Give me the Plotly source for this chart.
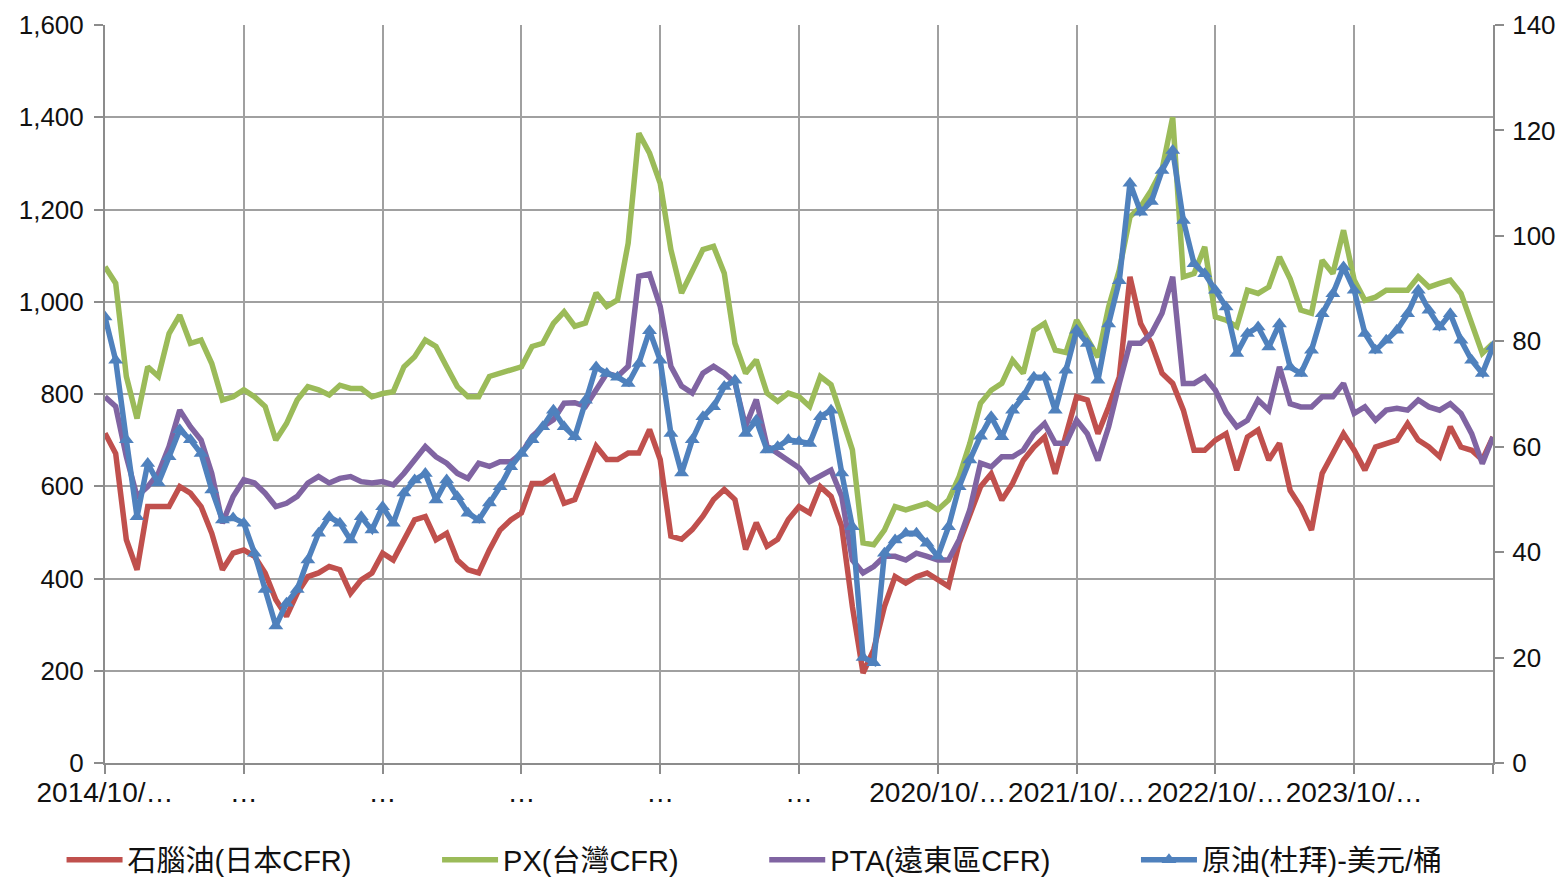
import plotly.graph_objects as go

# week index (every 4 weeks), weekly category axis starting 2014/10
weeks = list(range(0, 521, 4))

tick_weeks = [0, 52, 104, 156, 208, 260, 312, 364, 416, 468, 520]
tick_text = ["2014/10/…", "…", "…", "…", "…", "…", "2020/10/…", "2021/10/…", "2022/10/…", "2023/10/…", ""]

naphtha = [715, 671, 484, 419, 556, 556, 556, 599, 585, 556, 498, 419, 455, 462, 448, 412, 354, 318, 368, 404,
           412, 426, 419, 368, 397, 412, 455, 440, 484, 527, 534, 484, 498, 440, 419, 412, 462, 505, 527, 542,
           606, 606, 621, 563, 571, 629, 687, 658, 658, 672, 672, 723, 658, 492, 485, 506, 535, 571, 593, 571,
           463, 521, 470, 485, 528, 556, 542, 599, 578, 513, 339, 195, 246, 339, 404, 390, 404, 412, 397, 383,
           477, 542, 599, 627, 570, 606, 656, 685, 707, 627, 714, 794, 787, 714, 772, 837, 1054, 953, 910, 845,
           823, 765, 678, 678, 700, 714, 635, 707, 722, 657, 693, 591, 555, 505, 628, 671, 714, 678, 635, 685,
           693, 700, 736, 700, 685, 664, 729, 685, 678, 657, 707]

px_tw = [1076, 1040, 838, 747, 859, 838, 931, 971, 910, 917, 866, 787, 794, 809, 794, 773, 700, 736, 787, 816,
         809, 798, 819, 812, 812, 794, 801, 805, 859, 881, 917, 903, 859, 816, 794, 794, 838, 845, 852, 859,
         903, 910, 953, 978, 947, 954, 1019, 990, 1004, 1127, 1365, 1322, 1257, 1113, 1019, 1069, 1113, 1120, 1062, 910,
         845, 874, 802, 784, 802, 794, 773, 838, 820, 751, 679, 477, 473, 505, 556, 549, 556, 563, 549, 570,
         621, 693, 780, 808, 823, 873, 845, 938, 953, 895, 890, 960, 920, 880, 989, 1069, 1184, 1206, 1242, 1286,
         1400, 1054, 1061, 1119, 967, 960, 946, 1025, 1018, 1032, 1097, 1050, 982, 975, 1090, 1061, 1155, 1047, 1003, 1010,
         1025, 1025, 1025, 1054, 1032, 1040, 1047, 1018, 953, 888, 910]

pta = [794, 773, 664, 578, 599, 628, 686, 765, 729, 700, 628, 520, 578, 614, 607, 585, 556, 563, 578, 607,
       621, 607, 617, 621, 610, 607, 610, 603, 628, 657, 686, 664, 650, 628, 617, 650, 643, 653, 653, 671,
       708, 729, 744, 780, 781, 773, 809, 845, 838, 860, 1055, 1060, 990, 860, 817, 802, 845, 860, 845, 824,
       730, 788, 687, 672, 658, 640, 610, 621, 635, 578, 440, 412, 426, 448, 448, 440, 455, 448, 440, 440,
       484, 549, 650, 642, 664, 664, 678, 714, 736, 693, 693, 743, 714, 656, 729, 823, 910, 910, 931, 975,
       1054, 823, 823, 837, 808, 760, 729, 743, 787, 765, 859, 779, 772, 772, 794, 794, 823, 758, 772, 743,
       765, 769, 765, 787, 772, 765, 779, 758, 714, 649, 707]

crude = [84.6, 76.4, 61.3, 46.7, 56.8, 53.1, 58.1, 63.2, 61.3, 58.7, 51.8, 46.1, 46.5, 45.5, 39.8, 32.9, 26.0, 30.3, 32.9, 38.5,
         43.6, 46.7, 45.5, 42.3, 46.7, 44.2, 48.6, 45.5, 51.2, 53.7, 54.9, 49.9, 53.7, 50.5, 47.4, 46.1, 49.3, 52.4, 56.2, 58.7,
         61.3, 63.8, 66.9, 63.8, 61.9, 68.8, 75.1, 73.9, 73.2, 72.0, 75.8, 82.0, 76.4, 62.5, 55.0, 61.3, 65.7, 67.6, 71.4, 72.6,
         62.5, 65.0, 59.4, 60.0, 61.3, 61.0, 60.6, 65.7, 66.9, 55.0, 44.8, 20.0, 19.0, 39.8, 42.3, 43.6, 43.6, 41.7, 39.2, 44.8,
         52.4, 57.5, 62.0, 65.7, 61.9, 66.9, 69.5, 73.2, 73.2, 66.9, 74.5, 82.1, 79.6, 72.6, 83.3, 91.5, 110.0, 104.5, 106.5, 112.4,
         116.2, 102.9, 94.7, 92.8, 89.7, 86.5, 77.7, 81.5, 82.7, 78.9, 83.3, 75.1, 73.9, 78.3, 85.2, 89.0, 94.1, 89.7, 81.5, 78.3,
         80.2, 82.1, 85.2, 89.7, 85.9, 82.7, 85.2, 80.2, 76.4, 73.9, 79.0]

names = ["石腦油(日本CFR)", "PX(台灣CFR)", "PTA(遠東區CFR)", "原油(杜拜)-美元/桶"]
colors = ["#C0504D", "#9BBB59", "#8064A2", "#4F81BD"]

FONT = "Liberation Sans, Arial, Noto Sans CJK TC, sans-serif"
GRID = "#A0A0A0"
AXIS = "#8C8C8C"
PAD = "\u00a0" * 10  # spacing between legend entries

fig = go.Figure()
for name, series, color in zip(names[:3], [naphtha, px_tw, pta], colors[:3]):
    fig.add_trace(go.Scatter(x=weeks, y=series, name=name + PAD, mode="lines",
                             line=dict(color=color, width=5.5)))
fig.add_trace(go.Scatter(x=weeks, y=crude, name=names[3], mode="lines+markers", yaxis="y2",
                         line=dict(color=colors[3], width=5.5),
                         marker=dict(symbol="triangle-up", size=13, color=colors[3])))

ytick_font = dict(family=FONT, size=26, color="#111111")
xtick_font = dict(family=FONT, size=28, color="#111111")

fig.update_layout(
    width=1567, height=886, autosize=False,
    margin=dict(l=105, r=74, t=25, b=123, autoexpand=False),
    paper_bgcolor="white", plot_bgcolor="white",
    font=dict(family=FONT, size=26, color="#111111"),
    showlegend=True,
    legend=dict(orientation="h", x=-0.0313, xanchor="left", y=-0.1314, yanchor="middle",
                font=dict(family=FONT, size=29, color="#111111"), itemwidth=56,
                bgcolor="rgba(0,0,0,0)"),
    xaxis=dict(range=[0, 520], tickmode="array", tickvals=tick_weeks, ticktext=tick_text,
               showgrid=True, gridcolor=GRID, gridwidth=1.5, zeroline=False,
               showline=True, linecolor=AXIS, linewidth=2,
               ticks="outside", ticklen=9, tickcolor=AXIS, tickwidth=1.5,
               ticklabelstandoff=-6,
               tickfont=xtick_font, tickangle=0),
    yaxis=dict(range=[0, 1600], dtick=200, tickformat=",d",
               showgrid=True, gridcolor=GRID, gridwidth=1.5, zeroline=False,
               showline=True, linecolor=AXIS, linewidth=2,
               ticks="outside", ticklen=9, tickcolor=AXIS, tickwidth=1.5,
               ticklabelstandoff=5,
               tickfont=ytick_font),
    yaxis2=dict(range=[0, 140], dtick=20, overlaying="y", side="right",
                showgrid=False, zeroline=False,
                showline=True, linecolor=AXIS, linewidth=2,
                ticks="outside", ticklen=9, tickcolor=AXIS, tickwidth=1.5,
                ticklabelstandoff=3,
                tickfont=ytick_font),
)

fig.write_html("out.html", config={"displayModeBar": False},
               post_script="document.body.style.margin='0';document.body.style.overflow='hidden';")
